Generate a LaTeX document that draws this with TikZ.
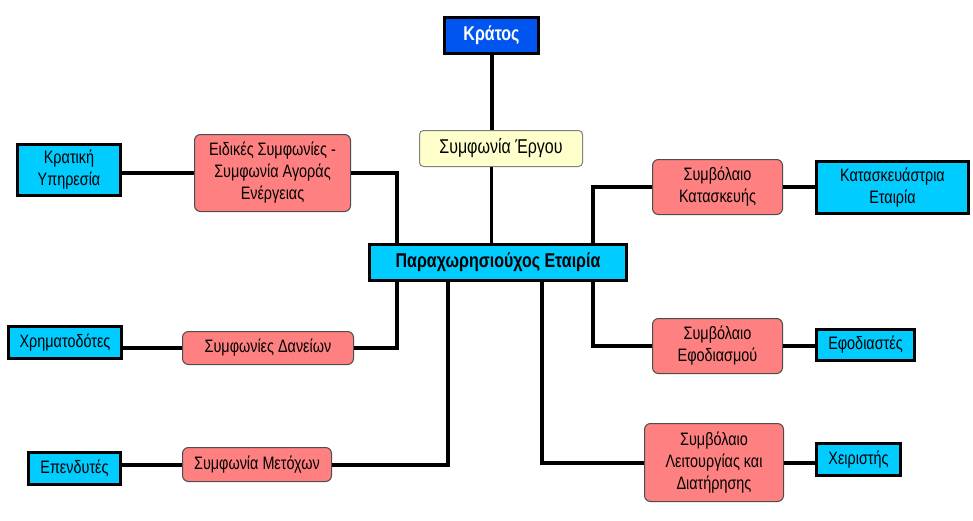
\documentclass[tikz,border=0pt]{standalone}
\usepackage{fontspec}
\setmainfont[FakeStretch=0.8]{Liberation Sans}
\usepackage{tikz}
\definecolor{partycyan}{RGB}{0,204,255}
\definecolor{contractred}{RGB}{255,128,128}
\definecolor{stateblue}{RGB}{0,85,240}
\definecolor{ergoyellow}{RGB}{255,255,204}

\begin{document}
\begin{tikzpicture}[
        x=1pt, y=-1pt,
        font=\fontsize{18}{22}\selectfont,
        party/.style={draw, line width=3.5pt, fill=partycyan, inner sep=2pt, align=center},
        contract/.style={draw=black!70, line width=1pt, fill=contractred, rounded corners=6pt, inner sep=2pt, align=center},
        link/.style={line width=4pt}
      ]
      \useasboundingbox (0,0) rectangle (973,520);
      \node (kratos) [draw, line width=3pt, fill=stateblue, text=white, font=\fontsize{20}{24}\selectfont\bfseries,
        minimum width=94, minimum height=36] at (491.5,35.5) {Κράτος};
      \node (ergo) [draw=black!50, line width=1pt, fill=ergoyellow, rounded corners=4pt, font=\fontsize{20}{24}\selectfont,
        minimum width=163, minimum height=36] at (501,148.5) {Συμφωνία Έργου};
      \node (central) [party, font=\fontsize{20}{24}\selectfont\bfseries,
        minimum width=257, minimum height=36] at (498,262.5) {Παραχωρησιούχος Εταιρία};

      \node (kratiki) [party, minimum width=103, minimum height=51] at (69,170) {Κρατική\\Υπηρεσία};
      \node (eidikes) [contract, minimum width=156, minimum height=77] at (272.5,173) {Ειδικές Συμφωνίες -\\Συμφωνία Αγοράς\\Ενέργειας};
      \node (xrimatodotes) [party, minimum width=113, minimum height=32] at (65,342.5) {Χρηματοδότες};
      \node (daneia) [contract, minimum width=171, minimum height=33] at (268,348) {Συμφωνίες Δανείων};
      \node (ependytes) [party, minimum width=92, minimum height=32] at (74.5,468.5) {Επενδυτές};
      \node (metoxon) [contract, minimum width=149, minimum height=34] at (257,464.5) {Συμφωνία Μετόχων};

      \node (kataskeuis) [contract, minimum width=130, minimum height=55] at (717.5,187) {Συμβόλαιο\\Κατασκευής};
      \node (kataskeuastria) [party, minimum width=152, minimum height=52] at (892.5,187.5) {Κατασκευάστρια\\Εταιρία};
      \node (efodiasmou) [contract, minimum width=130, minimum height=55] at (717.5,346) {Συμβόλαιο\\Εφοδιασμού};
      \node (efodiastes) [party, minimum width=98, minimum height=31] at (865.5,345) {Εφοδιαστές};
      \node (leitourgias) [contract, minimum width=139, minimum height=78] at (714,462.5) {Συμβόλαιο\\Λειτουργίας και\\Διατήρησης};
      \node (xeiristis) [party, minimum width=84, minimum height=32] at (858.5,459.5) {Χειριστής};

      \draw[link] (kratos.south) -- (kratos.south |- ergo.north);
      \draw[line width=2.5pt] (kratos.south |- ergo.south) -- (kratos.south |- central.north);
      \draw[link] (kratiki.east |- eidikes) -- (eidikes.west);
      \draw[link] (eidikes.east) -| ([xshift=-101pt]central.north);
      \draw[link] (xrimatodotes.east |- daneia) -- (daneia.west);
      \draw[link] (daneia.east) -| ([xshift=-101pt]central.south);
      \draw[link] (ependytes.east |- metoxon) -- (metoxon.west);
      \draw[link] (metoxon.east) -| ([xshift=-50pt]central.south);
      \draw[link] ([xshift=95pt]central.north) |- (kataskeuis.west);
      \draw[link] (kataskeuis.east) -- (kataskeuastria.west |- kataskeuis);
      \draw[link] ([xshift=95pt]central.south) |- (efodiasmou.west);
      \draw[link] (efodiasmou.east) -- (efodiastes.west |- efodiasmou);
      \draw[link] ([xshift=44pt]central.south) |- (leitourgias.west);
      \draw[link] (leitourgias.east) -- (xeiristis.west |- leitourgias);
    \end{tikzpicture}
\end{document}
